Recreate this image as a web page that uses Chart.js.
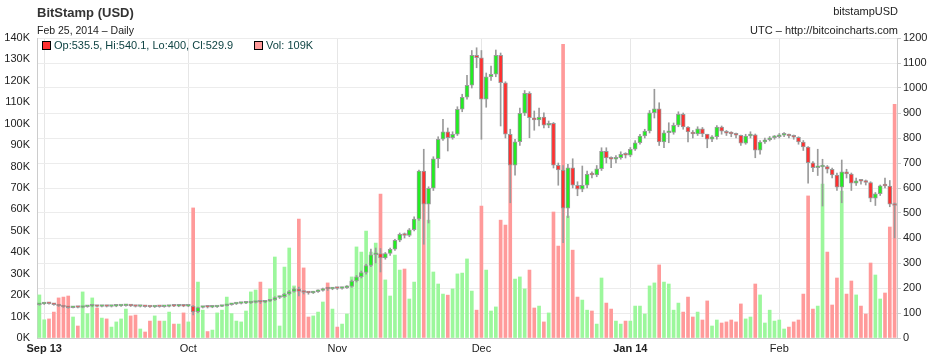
<!DOCTYPE html>
<html>
<head>
<meta charset="utf-8">
<script src="https://cdn.jsdelivr.net/npm/chart.js@4/dist/chart.umd.min.js"></script>
<style>
  html, body { margin: 0; padding: 0; background: #fff; }
  #wrap { position: relative; width: 936px; height: 359px; font-family: 'Liberation Sans', Arial, sans-serif; }
  canvas { position: absolute; left: 0; top: 0; }
  .t { position: absolute; white-space: nowrap; line-height: 1; }
  .sq { position: absolute; width: 7px; height: 7px; border: 1px solid #000; }
</style>
</head>
<body>
<div id="wrap">
  <canvas id="c" width="936" height="359"></canvas>
  <div class="t" style="left:37px;top:6px;font-size:13px;font-weight:bold;color:#333;">BitStamp (USD)</div>
  <div class="t" style="left:37px;top:25px;font-size:10.5px;color:#222;">Feb 25, 2014 – Daily</div>
  <div class="t" style="right:38px;top:6px;font-size:11px;color:#222;">bitstampUSD</div>
  <div class="t" style="right:38px;top:25px;font-size:11px;color:#222;">UTC – http://bitcoincharts.com</div>
  <div class="sq" style="left:42px;top:41px;background:#ff3030;"></div>
  <div class="t" id="lgOhlc" style="left:54px;top:40px;font-size:11px;color:#0f4444;"></div>
  <div class="sq" style="left:254px;top:41px;background:#ff9a9a;"></div>
  <div class="t" id="lgVol" style="left:266px;top:40px;font-size:11px;color:#0f4444;"></div>
</div>
<script>
// ---- data (daily, 2013-08-31 .. 2014-02-25) ----
const firstDate = '2013-08-31';
const open = [
  133,136,139,137,133,128,124,121,124,122,
  125,127,129,126,128,126,127,128,129,131,
  128,126,127,125,124,126,125,126,128,127,
  129,127,128,105,122,125,123,124,126,129,
  133,136,138,139,140,142,145,143,147,152,
  162,165,176,186,197,186,182,180,185,190,
  198,196,199,198,201,206,228,245,262,290,
  333,338,320,338,355,391,415,410,433,476,
  668,535,599,717,795,825,801,815,915,963,
  1011,1131,1121,955,1045,1055,1131,1021,815,691,
  785,899,979,881,872,884,851,859,691,672,
  519,681,611,595,611,655,652,677,747,720,
  715,721,735,731,755,781,808,828,901,917,
  784,821,822,851,895,844,824,816,837,816,
  795,805,844,827,819,816,811,779,808,813,
  751,784,793,801,805,811,813,808,803,784,
  764,701,681,684,686,675,652,603,665,656,
  619,629,627,622,559,577,609,608,535.5
];
const high = [
  138,141,140,138,134,129,125,126,125,127,
  128,131,130,130,129,129,130,131,133,132,
  129,128,128,126,127,127,128,130,129,131,
  130,130,130,124,126,126,126,128,131,135,
  138,140,141,142,144,147,147,149,155,165,
  168,179,190,201,204,190,184,187,193,200,
  201,202,201,204,210,232,250,268,296,356,
  360,358,342,360,395,420,420,438,485,672,
  755,605,725,805,875,840,825,925,975,1051,
  1150,1161,1150,1060,1088,1152,1140,1025,835,795,
  920,990,985,908,920,901,868,862,700,690,
  695,717,625,688,668,665,690,761,761,725,
  730,745,741,762,790,815,835,910,995,941,
  830,861,860,905,900,846,830,845,842,815,
  810,850,848,830,825,820,812,815,825,816,
  790,800,806,810,818,822,816,812,805,790,
  766,706,755,715,690,680,660,712,675,660,
  640,633,632,625,582,612,640,630,540.1
];
const low = [
  131,134,135,131,126,122,119,120,120,121,
  123,125,124,124,124,124,125,126,127,126,
  124,124,123,122,122,123,123,124,125,125,
  125,125,92,100,120,120,121,122,125,128,
  131,134,136,137,138,140,138,141,145,150,
  158,162,172,183,168,176,175,178,182,187,
  190,193,194,195,198,203,224,240,255,285,
  300,264,315,330,350,385,400,405,428,470,
  375,460,590,681,790,748,795,810,905,955,
  1000,1081,795,923,1030,1045,848,800,541,651,
  770,890,801,831,848,840,841,680,611,381,
  481,600,569,585,600,640,645,670,700,681,
  700,715,720,725,750,775,800,820,880,770,
  761,781,815,845,835,784,800,810,805,761,
  785,795,815,810,805,800,770,775,800,721,
  735,778,788,795,800,805,800,795,775,750,
  619,665,650,528,660,640,590,541,640,590,
  610,615,612,545,530,570,600,525,400
];
const close = [
  136,139,137,133,128,124,121,124,122,125,
  127,129,126,128,126,127,128,129,131,128,
  126,127,125,124,126,125,126,128,127,129,
  127,128,104,122,125,123,124,126,129,133,
  136,138,139,140,142,145,143,147,152,162,
  165,176,186,197,186,182,180,185,190,198,
  196,199,198,201,206,228,245,262,290,333,
  338,320,338,355,391,415,410,433,476,668,
  535,599,717,795,825,801,815,915,963,1011,
  1131,1121,955,1045,1055,1131,1021,815,691,785,
  899,979,881,872,884,851,859,691,672,519,
  681,611,595,611,655,652,677,747,720,715,
  721,735,731,755,781,808,828,901,917,784,
  821,822,851,895,844,824,816,837,816,795,
  805,844,827,819,816,811,779,808,813,751,
  784,793,801,805,811,813,808,803,784,764,
  701,681,684,686,675,652,603,665,656,619,
  629,627,622,559,577,609,608,535,529.9
];
// volume in thousands of BTC
const volumeK = [
  20.1,8.5,8.9,12.1,18.7,19.1,19.6,9.8,5.6,21.5,
  11.4,18.7,14,9.3,8.9,5.1,7.5,8.9,13.5,10.3,
  10.7,4.2,2.8,7.9,10.3,7.9,7.9,12.1,6.5,6.5,
  11.7,7.5,60.7,26.1,13,3,3.7,11.7,13,19.1,
  11.4,7.9,7.5,12.6,21.5,22.4,26.1,16.8,22.9,37.8,
  5.6,33.1,42,24.3,55.5,32.7,9.8,10.3,12.1,16.8,
  25.7,13.5,5.1,6.5,11.2,28.5,42.5,40.1,49.9,40.1,
  44.3,67.2,27.1,19.6,38.7,31.7,32.2,18.2,26.1,57,
  75,55,30.8,25.2,20.5,20,22.9,29.9,30.3,36.9,
  21.9,13,61.6,31.7,12.6,14.5,55,52.7,82,27.5,
  28.5,22.9,31.7,14,14.9,7.5,11.7,58.8,42.9,137,
  56.9,41,19.1,17.7,13,12.6,6.5,28,16.3,13.5,
  7.9,6.5,7.9,7.9,14.9,14.9,11.2,24.3,25.7,34.1,
  26.1,25.2,13,16.3,12.1,19.1,9.8,12.1,8.4,17.3,
  5.6,8.4,7,7.5,8.4,7.5,15.9,8.9,9.8,25.2,
  20.1,7,13,7.9,8.4,4.2,5.1,7.5,8.4,20.5,
  66.3,13.5,14.9,71.8,40.1,15.4,28,68.6,20.5,26.6,
  20.1,14.9,11.2,35,29.4,18.2,21,51.8,109
];
const monthTicks = [
  { label: 'Sep 13', date: '2013-09-01', bold: true },
  { label: 'Oct', date: '2013-10-01', bold: false },
  { label: 'Nov', date: '2013-11-01', bold: false },
  { label: 'Dec', date: '2013-12-01', bold: false },
  { label: 'Jan 14', date: '2014-01-01', bold: true },
  { label: 'Feb', date: '2014-02-01', bold: false }
];
const volTicksK = [0,10,20,30,40,50,60,70,80,90,100,110,120,130,140];
const priceTicks = [0,100,200,300,400,500,600,700,800,900,1000,1100,1200];

// ---- helpers ----
const DAY = 86400000;
const dayIndex = s => Math.round((Date.parse(s + 'T00:00:00Z') - Date.parse(firstDate + 'T00:00:00Z')) / DAY);
const n = close.length;
const up = close.map((c, i) => c >= open[i]);
const FONT = "'Liberation Sans', Arial, sans-serif";

const last = n - 1;
document.getElementById('lgOhlc').textContent =
  `Op:${open[last]}, Hi:${high[last]}, Lo:${low[last]}, Cl:${close[last]}`;
document.getElementById('lgVol').textContent = `Vol: ${Math.round(volumeK[last])}K`;

const tickIdx = monthTicks.map(m => dayIndex(m.date));

new Chart(document.getElementById('c'), {
  type: 'bar',
  data: {
    datasets: [
      {
        label: 'Body',
        data: close.map((c, i) => ({ x: i, y: [open[i], c] })),
        xAxisID: 'x', yAxisID: 'yP',
        backgroundColor: up.map(u => u ? '#22ee22' : '#ff3030'),
        borderColor: '#9a9a9a', borderWidth: 1, borderSkipped: false,
        barThickness: 4, minBarLength: 2, grouped: false, order: 1
      },
      {
        label: 'Wick',
        data: close.map((c, i) => ({ x: i, y: [low[i], high[i]] })),
        xAxisID: 'x', yAxisID: 'yP',
        backgroundColor: '#9a9a9a', borderWidth: 0,
        barThickness: 1, grouped: false, order: 2
      },
      {
        label: 'Volume',
        data: volumeK.map((v, i) => ({ x: i, y: v * 1000 })),
        xAxisID: 'x', yAxisID: 'yV',
        backgroundColor: up.map(u => u ? '#9cf79c' : '#ff9a9a'),
        borderWidth: 0, barThickness: 3, grouped: false, order: 3
      }
    ]
  },
  options: {
    responsive: false,
    animation: false,
    devicePixelRatio: 1,
    layout: { padding: { top: 38, left: 0, right: 0, bottom: 0 } },
    plugins: { legend: { display: false }, tooltip: { enabled: false } },
    scales: {
      x: {
        type: 'linear', position: 'bottom', min: -0.5, max: n - 0.5, offset: false,
        afterFit: s => { s.height = 21; },
        afterBuildTicks: s => { s.ticks = tickIdx.map(v => ({ value: v })); },
        grid: { color: '#e6e6e6', drawTicks: false, offset: false },
        border: { color: '#cccccc' },
        ticks: {
          padding: 4, color: '#222', maxRotation: 0, autoSkip: false,
          font: ctx => {
            const k = tickIdx.indexOf(ctx.tick ? ctx.tick.value : -1);
            return { family: FONT, size: 11, weight: (k >= 0 && monthTicks[k].bold) ? 'bold' : 'normal' };
          },
          callback: v => { const k = tickIdx.indexOf(v); return k >= 0 ? monthTicks[k].label : ''; }
        }
      },
      yV: {
        type: 'linear', position: 'left', min: 0, max: 140000,
        afterFit: s => { s.width = 37; },
        afterBuildTicks: s => { s.ticks = volTicksK.map(v => ({ value: v * 1000 })); },
        grid: { drawOnChartArea: false, drawTicks: false },
        border: { color: '#cccccc' },
        ticks: { padding: 7, color: '#222', font: { family: FONT, size: 11 }, callback: v => (v / 1000) + 'K' }
      },
      yP: {
        type: 'linear', position: 'right', min: 0, max: 1200,
        afterFit: s => { s.width = 39; },
        afterBuildTicks: s => { s.ticks = priceTicks.map(v => ({ value: v })); },
        grid: { color: '#ececec', tickColor: '#cccccc', tickLength: 4 },
        border: { color: '#cccccc' },
        ticks: { padding: 2, color: '#222', font: { family: FONT, size: 11 }, callback: v => String(v) }
      }
    }
  }
});
</script>
</body>
</html>
